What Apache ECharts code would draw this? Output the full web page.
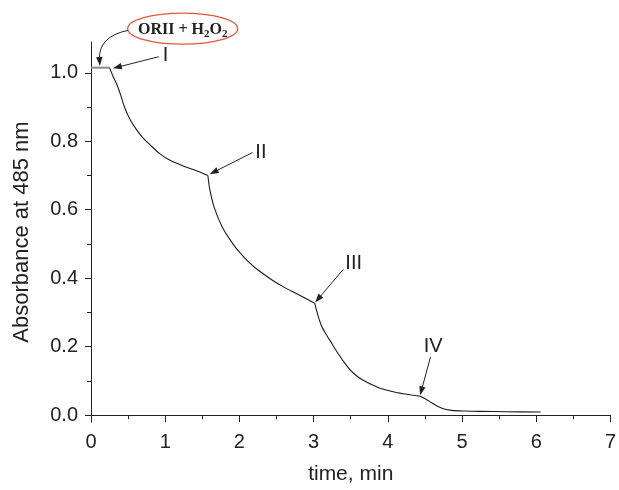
<!DOCTYPE html>
<html>
<head>
<meta charset="utf-8">
<script src="https://cdn.jsdelivr.net/npm/echarts@6/dist/echarts.min.js"></script>
<style>
html,body{margin:0;padding:0;background:#fff;}
#chart{width:619px;height:490px;}
</style>
</head>
<body>
<div id="chart"></div>
<script>
// ---- data ----
const plateauTime = [0, 0.25];
const plateauAbs = [1.015, 1.015];
const curveTime = [0.25, 0.30, 0.345, 0.40, 0.456, 0.53, 0.613, 0.70, 0.79, 0.925, 1.06, 1.24, 1.42, 1.575,
  1.60, 1.66, 1.77, 1.91, 2.0, 2.13, 2.25, 2.44, 2.6, 2.76, 3.015,
  3.06, 3.11, 3.18, 3.25, 3.33, 3.43, 3.52, 3.65, 3.87, 4.10, 4.32, 4.435,
  4.52, 4.59, 4.72, 4.86, 5.05, 5.25, 5.6, 6.06];
const curveAbs = [1.015, 0.988, 0.968, 0.935, 0.897, 0.862, 0.834, 0.810, 0.791, 0.764, 0.745, 0.728, 0.714, 0.700,
  0.660, 0.607, 0.549, 0.501, 0.476, 0.446, 0.424, 0.395, 0.374, 0.356, 0.327,
  0.290, 0.259, 0.232, 0.208, 0.180, 0.149, 0.126, 0.104, 0.081, 0.067, 0.059, 0.055,
  0.046, 0.036, 0.021, 0.014, 0.012, 0.011, 0.010, 0.009];
const cornerIdx = [0, 13, 24, 36, 44]; // segment boundaries (I, II, III, IV, end)
const yTickValues = [0, 0.2, 0.4, 0.6, 0.8, 1.0];
const yMinorValues = [0.1, 0.3, 0.5, 0.7, 0.9];
// annotations: label text, label position, arrow tail, arrow head (data coordinates)
const annLabels = ['I', 'II', 'III', 'IV'];
const annLabelPos = [[1.005, 1.05], [2.29, 0.767], [3.54, 0.443], [4.61, 0.200]];
const annTail = [[0.912, 1.047], [2.176, 0.767], [3.40, 0.426], [4.575, 0.170]];
const annHead = [[0.295, 1.013], [1.60, 0.704], [3.02, 0.329], [4.435, 0.058]];
const reagentCenter = [1.236, 1.129];
const reagentArrow = [[0.50, 1.124], [0.094, 1.106], [0.12, 1.020]]; // start, control, end

const zip = (a, b) => a.map((v, i) => [v, b[i]]);
const curvePts = zip(curveTime, curveAbs);

const chart = echarts.init(document.getElementById('chart'));
const txt = '#222';
const font = 'Liberation Sans, Arial, sans-serif';

const segSeries = [];
for (let k = 0; k < cornerIdx.length - 1; k++) {
  segSeries.push({
    type: 'line', data: curvePts.slice(cornerIdx[k], cornerIdx[k + 1] + 1), symbol: 'none',
    smooth: 0.3, lineStyle: { color: '#1a1a1a', width: 1.1 }
  });
}

chart.setOption({
  animation: false,
  grid: { left: 91, right: 6, top: 42, bottom: 64, containLabel: false },
  xAxis: {
    type: 'value', min: 0, max: 7, interval: 1,
    name: 'time, min', nameLocation: 'middle', nameGap: 42,
    nameTextStyle: { fontSize: 21, color: txt, fontFamily: font },
    axisLine: { show: true, lineStyle: { color: '#222', width: 1 } },
    axisTick: { show: true, length: 7, lineStyle: { color: '#222' } },
    minorTick: { show: true, splitNumber: 2, length: 4, lineStyle: { color: '#222' } },
    splitLine: { show: false },
    axisLabel: { fontSize: 20, color: txt, fontFamily: font, margin: 10 }
  },
  yAxis: [{
    type: 'value', min: -0.02, max: 1.09,
    name: 'Absorbance at 485 nm', nameLocation: 'middle', nameGap: 58,
    nameTextStyle: { fontSize: 22, color: txt, fontFamily: font },
    axisLine: { show: true, lineStyle: { color: '#222', width: 1 } },
    axisTick: { show: true, length: 6, customValues: yTickValues, lineStyle: { color: '#222' } },
    splitLine: { show: false },
    axisLabel: { fontSize: 20, color: txt, fontFamily: font, margin: 13,
      customValues: yTickValues, formatter: v => v.toFixed(1) }
  }, {
    type: 'value', min: -0.02, max: 1.09, position: 'left',
    axisLine: { show: false },
    axisTick: { show: true, length: 4, customValues: yMinorValues, lineStyle: { color: '#222' } },
    splitLine: { show: false },
    axisLabel: { show: false }
  }],
  series: [{
    type: 'line', data: zip(plateauTime, plateauAbs), symbol: 'none',
    lineStyle: { color: '#8a8a8a', width: 2 }
  }].concat(segSeries)
});

function px(p) { return chart.convertToPixel({ gridIndex: 0 }, p); }
function arrowHead(tip, dir, len, hw, color) {
  const ux = dir[0], uy = dir[1];
  const bx = tip[0] - ux * len, by = tip[1] - uy * len;
  return {
    type: 'polygon',
    shape: { points: [tip, [bx - uy * hw, by + ux * hw], [bx + uy * hw, by - ux * hw]] },
    style: { fill: color }
  };
}
const g = [];
annLabels.forEach((lab, i) => {
  const t = px(annTail[i]), h = px(annHead[i]), lp = px(annLabelPos[i]);
  const dx = h[0] - t[0], dy = h[1] - t[1], L = Math.hypot(dx, dy);
  const u = [dx / L, dy / L];
  g.push({ type: 'line', shape: { x1: t[0], y1: t[1], x2: h[0] - u[0] * 6, y2: h[1] - u[1] * 6 },
    style: { stroke: '#222', lineWidth: 1 } });
  g.push(arrowHead(h, u, 9, 3.2, '#222'));
  g.push({ type: 'text', x: lp[0], y: lp[1],
    style: { text: lab, fontSize: 20, fontFamily: font, fill: '#222', align: 'center', verticalAlign: 'middle' } });
});
// reagent ellipse
const c = px(reagentCenter);
g.push({ type: 'ellipse', shape: { cx: c[0], cy: c[1], rx: 55, ry: 15.5 },
  style: { fill: 'none', stroke: '#e4573f', lineWidth: 1.3 } });
g.push({ type: 'text', x: c[0], y: c[1] + 1,
  style: {
    text: '{m|ORII + H}{s|2}{m|O}{s|2}', align: 'center', verticalAlign: 'middle',
    rich: {
      m: { fontSize: 16, fontWeight: 'bold', fontFamily: 'Liberation Serif, Times New Roman, serif', fill: '#222' },
      s: { fontSize: 11, fontWeight: 'bold', fontFamily: 'Liberation Serif, Times New Roman, serif', fill: '#222', padding: [10, 0, 0, 0] }
    }
  } });
const a0 = px(reagentArrow[0]), a1 = px(reagentArrow[1]), a2 = px(reagentArrow[2]);
const ddx = a2[0] - a1[0], ddy = a2[1] - a1[1], dL = Math.hypot(ddx, ddy);
const du = [ddx / dL, ddy / dL];
g.push({ type: 'bezierCurve', shape: { x1: a0[0], y1: a0[1], cpx1: a1[0], cpy1: a1[1], x2: a2[0] - du[0] * 6, y2: a2[1] - du[1] * 6 },
  style: { stroke: '#222', lineWidth: 1, fill: 'none' } });
g.push(arrowHead(a2, du, 9, 3.2, '#222'));
chart.setOption({ graphic: g });
</script>
</body>
</html>
